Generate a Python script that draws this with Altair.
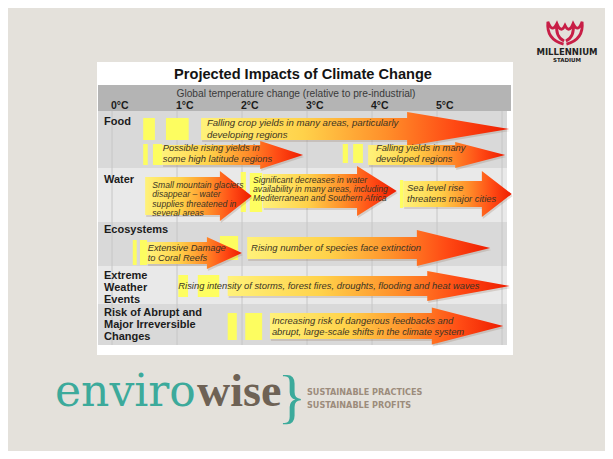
import altair as alt
import pandas as pd

# ---------------- data (temperatures in °C above pre-industrial) ----------------
title_text = "Projected Impacts of Climate Change"
header_text = "Global temperature change (relative to pre-industrial)"
degree_ticks = [0, 1, 2, 3, 4, 5]
degree_labels = ["0°C", "1°C", "2°C", "3°C", "4°C", "5°C"]
grid_degrees = [0, 1, 2, 3, 4, 5, 6]

row_names = ["Food", "Water", "Ecosystems", "Extreme", "Risk"]
row_label_lines = [["Food"], ["Water"], ["Ecosystems"],
                   ["Extreme", "Weather", "Events"],
                   ["Risk of Abrupt and", "Major Irreversible", "Changes"]]

arrow_row = ["Food", "Food", "Food", "Water", "Water", "Water",
             "Ecosystems", "Ecosystems", "Extreme", "Risk"]
arrow_start = [1.37, 0.77, 3.94, 0.51, 2.32, 4.48, 0.54, 2.08, 1.78, 2.43]
arrow_head = [4.54, 2.28, 5.28, 1.66, 3.77, 5.69, 1.46, 4.69, 4.85, 4.92]
arrow_end = [6.11, 2.94, 6.05, 2.15, 4.38, 6.15, 2.00, 5.82, 6.12, 6.02]
arrow_text_from = [1.46, 0.78, 4.06, 0.62, 2.17, 4.54, 0.55, 2.14, 1.02, 2.46]
arrow_lines = [
    ["Falling crop yields in many areas, particularly", "developing regions"],
    ["Possible rising yields in", "some high latitude regions"],
    ["Falling yields in many", "developed regions"],
    ["Small mountain glaciers", "disappear  \u2013 water", "supplies threatened in", "several areas"],
    ["Significant decreases in water", "availability in many areas, including", "Mediterranean and Southern Africa"],
    ["Sea level rise", "threatens major cities"],
    ["Extensive Damage", "to Coral Reefs"],
    ["Rising number of species face extinction"],
    ["Rising intensity of storms, forest fires, droughts, flooding and heat waves"],
    ["Increasing risk of dangerous feedbacks and", "abrupt, large-scale shifts in the climate system"],
]

bar_row = ["Food"] * 6 + ["Water"] * 3 + ["Ecosystems"] * 3 + ["Extreme"] * 2 + ["Risk"] * 2
bar_from = [0.48, 0.83, 0.48, 0.63, 3.55, 3.71, 1.98, 2.12, 4.43, 0.32, 0.43, 1.66, 1.02, 1.32, 1.78, 2.05]
bar_to = [0.66, 1.18, 0.55, 0.77, 3.63, 3.86, 2.06, 2.31, 4.48, 0.38, 0.54, 1.94, 1.17, 1.65, 1.92, 2.31]

logo_word_1 = "enviro"
logo_word_2 = "wise"
logo_tagline = ["SUSTAINABLE PRACTICES", "SUSTAINABLE PROFITS"]
stadium_lines = ["MILLENNIUM", "STADIUM"]

# ---------------- layout (page pixels) and styles ----------------
W, H = 597, 443
PX0, PX_PER_DEG = 112, 65          # page x of 0 °C and width of one degree


def deg(px):
    return (px - PX0) / PX_PER_DEG


X_DOMAIN = [deg(8), deg(8 + W)]
Y_DOMAIN = [8, 8 + H]
xs = alt.Scale(domain=X_DOMAIN, zero=False, nice=False)
ys = alt.Scale(domain=Y_DOMAIN, zero=False, nice=False, reverse=True)

BG = "#e4e1db"
row_band_y = {"Food": (111, 168), "Water": (168, 222), "Ecosystems": (222, 266),
              "Extreme": (266, 304), "Risk": (304, 345)}
row_band_color = {"Food": "#d9d9d9", "Water": "#e9e9e9", "Ecosystems": "#d9d9d9",
                  "Extreme": "#e9e9e9", "Risk": "#d9d9d9"}
row_label_y = {"Food": 122, "Water": 180, "Ecosystems": 230, "Extreme": 276, "Risk": 313}
arrow_geom = [(129, 11, 17), (155, 10, 14), (155, 10, 13), (196, 19, 25), (191, 17, 25),
              (194, 13, 23), (253, 11, 16), (248, 11, 18), (286, 10, 15), (326, 13, 18.5)]
arrow_text_layout = [(123, 11.5, 9.6), (148, 11, 9.4), (148, 11, 9.4), (185, 9.4, 8.6),
                     (180, 9.2, 8.6), (188, 10.5, 9.4), (248, 10, 9.3), (248, 0, 9.5),
                     (286, 0, 9.4), (321, 11, 9.4)]
bar_y = [(118, 140), (118, 140), (144, 165), (144, 165), (144, 163), (144, 163),
         (172, 212), (173, 212), (180, 208), (240, 265), (240, 265), (236, 260),
         (275, 297), (275, 297), (313, 340), (313, 340)]
SHADOW = 2  # px

X = lambda f: alt.X(f, type="quantitative", scale=xs, axis=None)
X2 = lambda f: alt.X2(f)
Y = lambda f: alt.Y(f, type="quantitative", scale=ys, axis=None)
Y2 = lambda f: alt.Y2(f)

# ---------------- frames ----------------
panel_df = pd.DataFrame([
    {"x": deg(97), "x2": deg(513), "y": 62, "y2": 355, "c": "#ffffff"},
    {"x": deg(98), "x2": deg(511), "y": 85, "y2": 111, "c": "#b4b4b4"},
] + [
    {"x": deg(98), "x2": deg(507), "y": row_band_y[r][0], "y2": row_band_y[r][1], "c": row_band_color[r]}
    for r in row_names
])

grid_df = pd.DataFrame({"d": grid_degrees, "y": 111, "y2": 345})

bars_df = pd.DataFrame({"row": bar_row, "x": bar_from, "x2": bar_to,
                        "y": [b[0] for b in bar_y], "y2": [b[1] for b in bar_y]})

EPS = 1e-4
pts = []
for i in range(len(arrow_start)):
    c, b, h = arrow_geom[i]
    pts += [
        {"id": i, "x": arrow_start[i], "y": c - b, "y2": c + b},
        {"id": i, "x": arrow_head[i], "y": c - b, "y2": c + b},
        {"id": i, "x": arrow_head[i] + EPS, "y": c - h, "y2": c + h},
        {"id": i, "x": arrow_end[i], "y": c, "y2": c},
    ]
arrow_df = pd.DataFrame(pts)
shadow_df = arrow_df.assign(y=arrow_df.y + SHADOW, y2=arrow_df.y2 + SHADOW,
                            x=arrow_df.x + 1.0 / PX_PER_DEG)

text_rows = []
for i, lines in enumerate(arrow_lines):
    y0, gap, size = arrow_text_layout[i]
    for j, line in enumerate(lines):
        text_rows.append({"x": arrow_text_from[i], "y": y0 + j * gap, "t": line, "s": size})
text_df = pd.DataFrame(text_rows)

label_rows = []
for r, lines in zip(row_names, row_label_lines):
    for j, line in enumerate(lines):
        label_rows.append({"x": deg(104), "y": row_label_y[r] + j * 12, "t": line})
label_df = pd.DataFrame(label_rows)

deg_df = pd.DataFrame({"x": [d + 0.12 for d in degree_ticks], "y": 106, "t": degree_labels})

# ---------------- layers ----------------
panels = alt.Chart(panel_df).mark_rect().encode(
    x=X("x"), x2=X2("x2"), y=Y("y"), y2=Y2("y2"),
    color=alt.Color("c:N", scale=None))

grid = alt.Chart(grid_df).mark_rule(color="#c6c6c6", strokeWidth=1).encode(
    x=X("d"), y=Y("y"), y2=Y2("y2"))

bars = alt.Chart(bars_df).mark_rect(color="#ffff5a", opacity=0.95).encode(
    x=X("x"), x2=X2("x2"), y=Y("y"), y2=Y2("y2"))

grad = alt.Gradient(
    gradient="linear",
    stops=[alt.GradientStop(color="#fff27a", offset=0),
           alt.GradientStop(color="#ffd24a", offset=0.33),
           alt.GradientStop(color="#ff8f2a", offset=0.6),
           alt.GradientStop(color="#ff4a14", offset=0.82),
           alt.GradientStop(color="#ee1c00", offset=1)],
    x1=0, x2=1, y1=0, y2=0)

shadows = alt.Chart(shadow_df).mark_area(fill="#8a6a50", fillOpacity=0.22, orient="vertical").encode(
    x=X("x"), y=Y("y"), y2=Y2("y2"), detail="id:N")

arrows = alt.Chart(arrow_df).mark_area(fill=grad, fillOpacity=1, orient="vertical").encode(
    x=X("x"), y=Y("y"), y2=Y2("y2"), detail="id:N")

arrow_texts = alt.Chart(text_df).mark_text(
    align="left", baseline="middle", fontStyle="italic",
    font="Liberation Sans", color="#3b3424").encode(
    x=X("x"), y=Y("y"), text="t:N", size=alt.Size("s:Q", scale=None))

row_labels = alt.Chart(label_df).mark_text(
    align="left", baseline="middle", fontWeight="bold", fontSize=11,
    font="Liberation Sans", color="#1c1c1c").encode(
    x=X("x"), y=Y("y"), text="t:N")

deg_labels = alt.Chart(deg_df).mark_text(
    align="center", baseline="middle", fontWeight="bold", fontSize=10.5,
    font="Liberation Sans", color="#1c1c1c").encode(
    x=X("x"), y=Y("y"), text="t:N")

single = pd.DataFrame([
    {"x": deg(303), "y": 75, "t": title_text, "k": "title"},
    {"x": deg(296), "y": 94, "t": header_text, "k": "header"},
])
title = alt.Chart(single[single.k == "title"]).mark_text(
    align="center", baseline="middle", fontWeight="bold", fontSize=14.6,
    font="Liberation Sans", color="#141414").encode(x=X("x"), y=Y("y"), text="t:N")
header = alt.Chart(single[single.k == "header"]).mark_text(
    align="center", baseline="middle", fontSize=10.2,
    font="Liberation Sans", color="#3a3a3a").encode(x=X("x"), y=Y("y"), text="t:N")

# envirowise logo
ew1 = alt.Chart(pd.DataFrame({"x": [deg(55)], "y": [406], "t": [logo_word_1]})).mark_text(
    align="left", baseline="alphabetic", fontSize=44, font="DejaVu Serif",
    color="#3caa9b").encode(x=X("x"), y=Y("y"), text="t:N")
ew2 = alt.Chart(pd.DataFrame({"x": [deg(197)], "y": [406], "t": [logo_word_2]})).mark_text(
    align="left", baseline="alphabetic", fontSize=46, fontWeight="bold", font="Liberation Serif",
    color="#6e6255").encode(x=X("x"), y=Y("y"), text="t:N")
brace = alt.Chart(pd.DataFrame({"x": [deg(292)], "y": [398], "t": ["}"]})).mark_text(
    align="center", baseline="middle", fontSize=60, font="Liberation Serif",
    color="#3caa9b").encode(x=X("x"), y=Y("y"), text="t:N")
tag = alt.Chart(pd.DataFrame({"x": [deg(307)] * 2, "y": [392, 405], "t": logo_tagline})).mark_text(
    align="left", baseline="middle", fontSize=9, fontWeight="bold",
    font="DejaVu Sans Condensed", color="#9c8c7c").encode(x=X("x"), y=Y("y"), text="t:N")

# Millennium Stadium logo
LOGO_PATH = ("M -0.08 0.62 Q -1.05 0.35 -0.95 -0.62 "
             "Q -0.72 0.02 -0.45 -0.52 Q -0.22 0.05 0 -0.42 "
             "Q 0.22 0.05 0.45 -0.52 Q 0.72 0.02 0.95 -0.62 "
             "Q 1.05 0.35 0.08 0.62 "
             "M -0.05 0.45 Q -0.55 0.2 -0.45 -0.52 "
             "M 0.05 0.45 Q 0.55 0.2 0.45 -0.52")
stadium_mark = alt.Chart(pd.DataFrame({"x": [deg(565)], "y": [33]})).mark_point(
    shape=LOGO_PATH, size=1300, filled=False, stroke="#c81e46", strokeWidth=2.8, opacity=1).encode(
    x=X("x"), y=Y("y"))
stadium_txt = alt.Chart(pd.DataFrame({"x": [deg(567)] * 2, "y": [52, 60], "t": stadium_lines,
                                      "s": [8.5, 5.5]})).mark_text(
    align="center", baseline="middle", fontWeight="bold", font="DejaVu Sans",
    color="#222222").encode(x=X("x"), y=Y("y"), text="t:N", size=alt.Size("s:Q", scale=None))

chart = alt.layer(
    panels, grid, bars, shadows, arrows, arrow_texts, row_labels, deg_labels, title, header,
    ew1, ew2, brace, tag, stadium_mark, stadium_txt
).properties(
    width=W, height=H, background=BG, padding=0,
    autosize=alt.AutoSizeParams(type="none")
).configure_view(stroke=None)

chart.save("out.html", embed_options={"renderer": "svg", "actions": False})
